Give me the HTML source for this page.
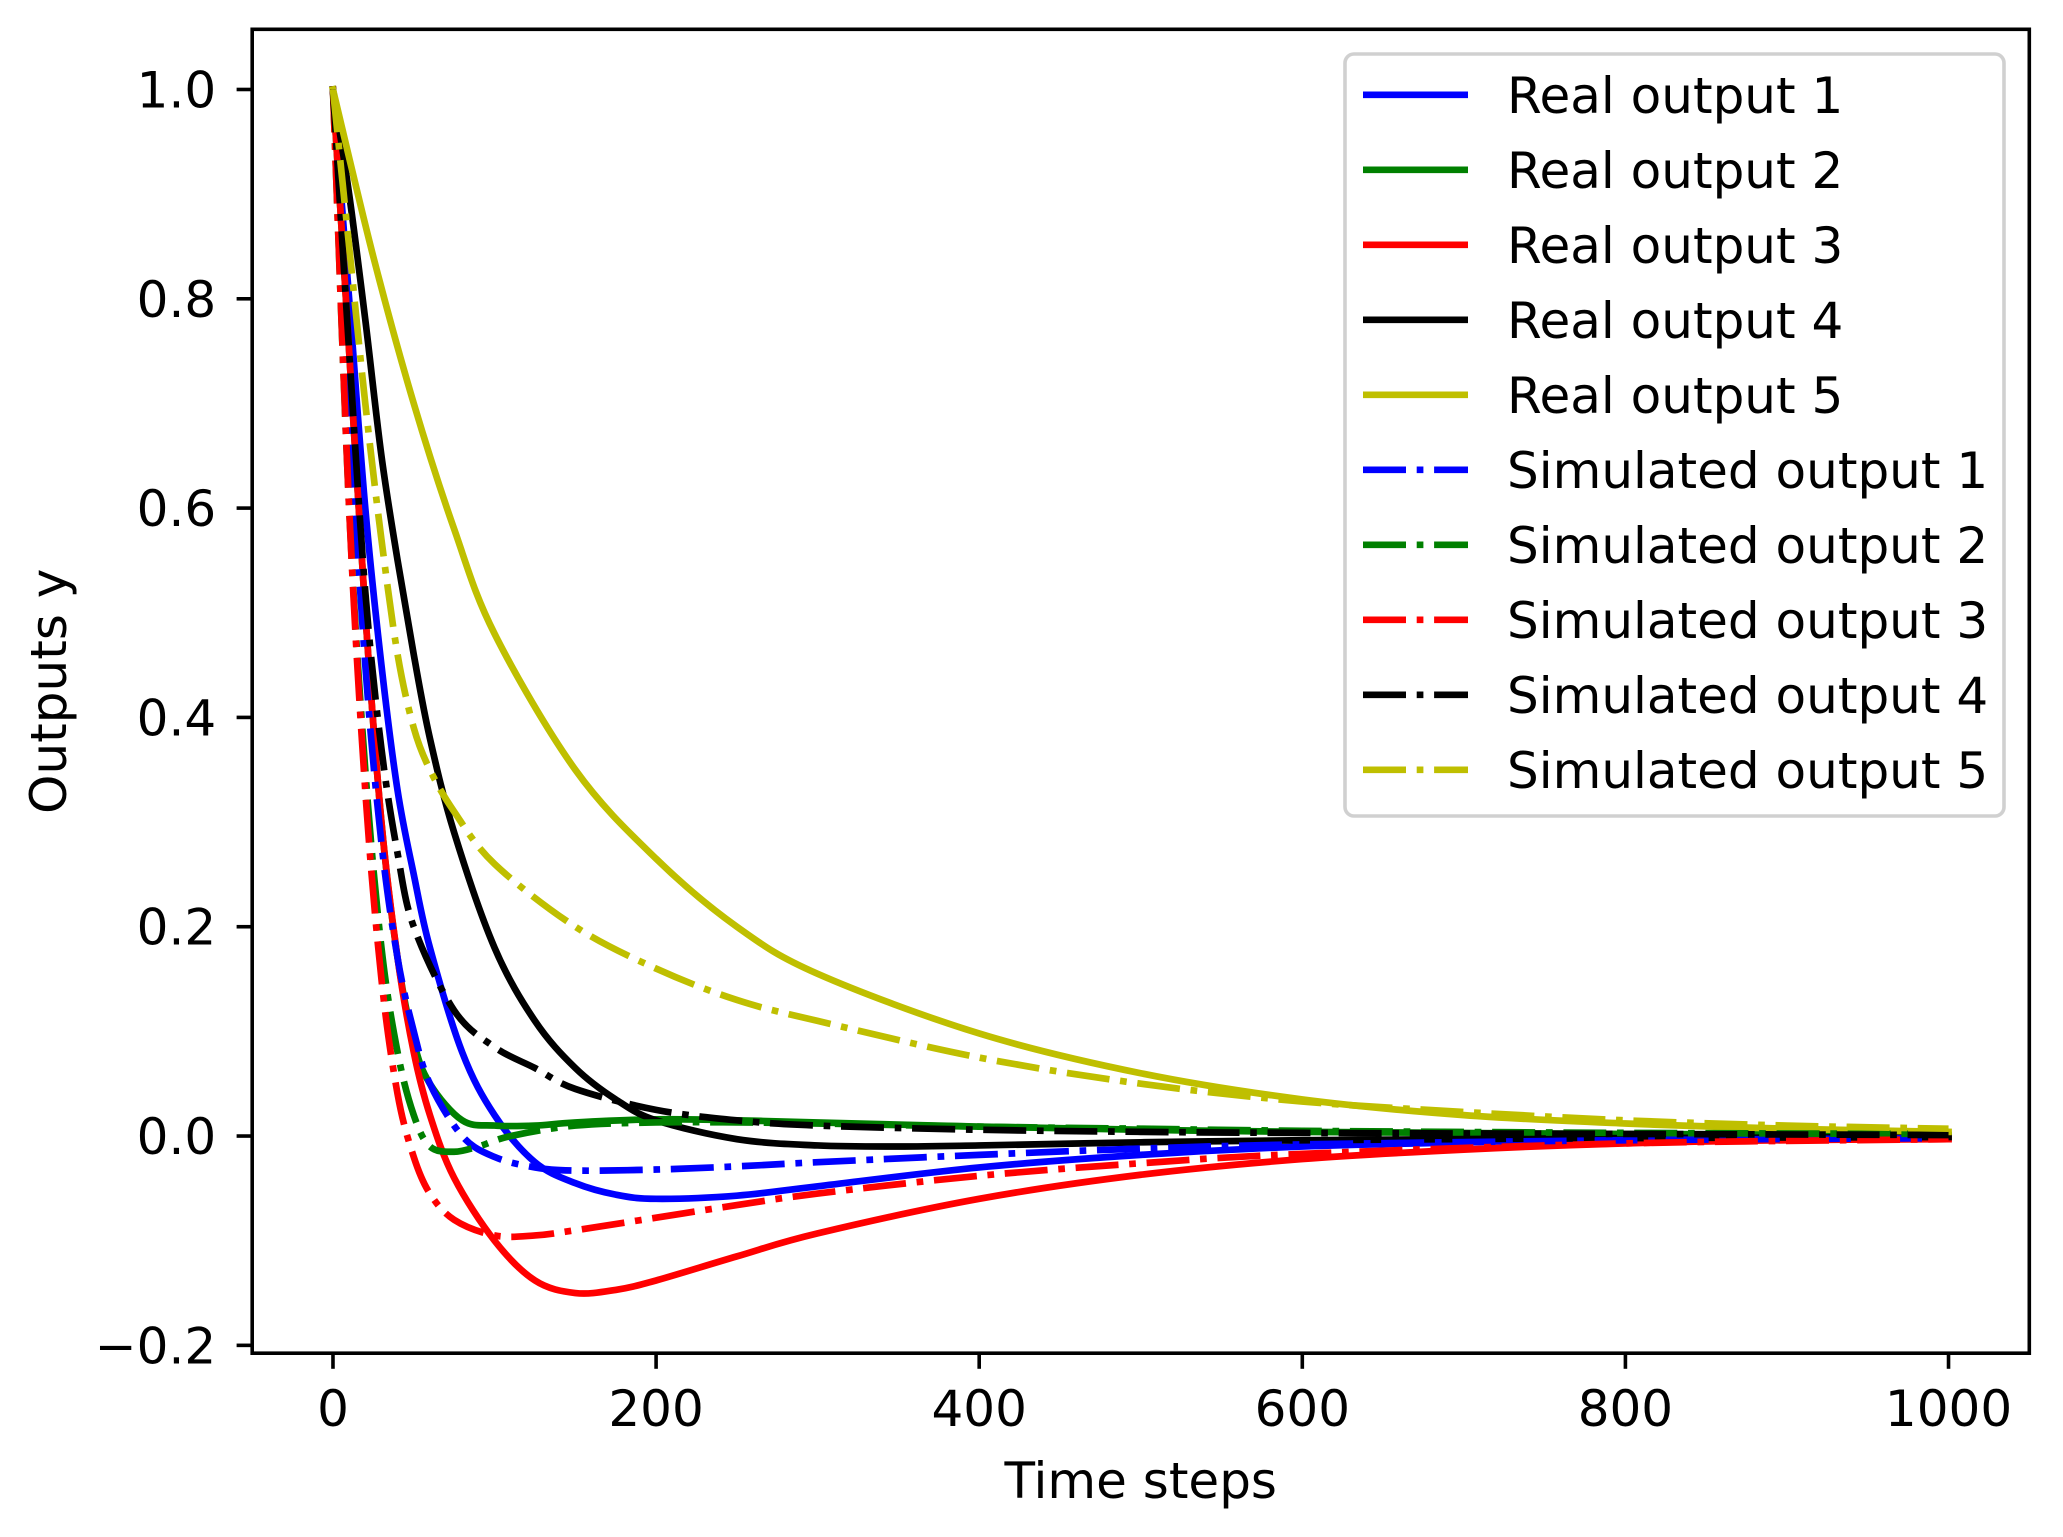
<!DOCTYPE html>
<html><head><meta charset="utf-8"><style>
html,body{margin:0;padding:0;background:#fff}
svg text{font-family:"DejaVu Sans","Liberation Sans",sans-serif;fill:#000}
</style></head><body>
<svg id="chart" width="2063" height="1532" viewBox="0 0 2063 1532" xmlns="http://www.w3.org/2000/svg">
<rect width="2063" height="1532" fill="#fff"/>
<g id="plot"></g>
<g id="axes"></g>
<g id="legend"></g>
</svg>
<script>
const xTicks=[0,200,400,600,800,1000];
const yTicks=[-0.2,0.0,0.2,0.4,0.6,0.8,1.0];
const yTickLabels=["\u22120.2","0.0","0.2","0.4","0.6","0.8","1.0"];
const seriesNames=["Real output 1","Real output 2","Real output 3","Real output 4","Real output 5","Simulated output 1","Simulated output 2","Simulated output 3","Simulated output 4","Simulated output 5"];
const seriesColors=["#0000ff","#008000","#ff0000","#000000","#bfbf00","#0000ff","#008000","#ff0000","#000000","#bfbf00"];
const seriesDashed=[false,false,false,false,false,true,true,true,true,true];
const real1X=[0,10,20,30,40,50,60,80,100,125,150,175,200,250,300,400,500,600,700,800,1000];
const real1Y=[1,0.8,0.6,0.45,0.33,0.25,0.18,0.08,0.02,-0.025,-0.045,-0.056,-0.06,-0.057,-0.048,-0.03,-0.018,-0.01,-0.006,-0.003,-0.001];
const real2X=[0,10,20,30,40,50,60,80,100,125,150,200,250,300,400,500,600,800,1000];
const real2Y=[1,0.75,0.5,0.3,0.17,0.09,0.05,0.015,0.01,0.01,0.013,0.016,0.015,0.013,0.009,0.006,0.004,0.002,0.001];
const real3X=[0,10,20,30,40,50,60,75,100,125,150,175,200,250,300,400,500,600,700,800,900,1000];
const real3Y=[1,0.75,0.5,0.3,0.17,0.08,0.02,-0.04,-0.1,-0.138,-0.15,-0.147,-0.138,-0.115,-0.093,-0.06,-0.037,-0.022,-0.013,-0.007,-0.004,-0.003];
const real4X=[0,10,20,30,40,50,60,75,100,125,150,175,200,250,300,350,400,500,600,800,1000];
const real4Y=[1,0.9,0.78,0.65,0.55,0.46,0.38,0.29,0.18,0.11,0.065,0.035,0.015,-0.003,-0.009,-0.01,-0.009,-0.006,-0.004,-0.002,-0.001];
const real5X=[0,25,50,75,100,150,200,250,300,400,500,600,700,800,900,1000];
const real5Y=[1,0.84,0.7,0.58,0.48,0.35,0.265,0.2,0.155,0.098,0.06,0.035,0.02,0.012,0.007,0.004];
const sim1X=[0,10,20,30,40,50,60,80,100,125,150,200,250,300,400,500,600,800,1000];
const sim1Y=[1,0.7,0.45,0.28,0.17,0.1,0.05,0.0,-0.02,-0.03,-0.033,-0.032,-0.029,-0.025,-0.018,-0.012,-0.008,-0.004,-0.002];
const sim2X=[0,10,20,30,40,50,60,75,90,110,150,200,250,300,400,500,600,800,1000];
const sim2Y=[1,0.6,0.35,0.18,0.08,0.02,-0.01,-0.015,-0.01,0.0,0.01,0.013,0.013,0.012,0.009,0.007,0.005,0.003,0.002];
const sim3X=[0,10,20,30,40,50,60,75,100,125,150,200,250,300,400,500,600,800,1000];
const sim3Y=[1,0.6,0.33,0.15,0.04,-0.02,-0.055,-0.08,-0.095,-0.095,-0.09,-0.078,-0.066,-0.055,-0.038,-0.026,-0.017,-0.007,-0.003];
const sim4X=[0,10,20,30,40,50,75,100,125,150,200,250,300,400,500,600,800,1000];
const sim4Y=[1,0.75,0.52,0.37,0.27,0.2,0.12,0.085,0.065,0.045,0.025,0.015,0.01,0.006,0.004,0.003,0.002,0.001];
const sim5X=[0,10,20,30,40,50,60,75,100,150,200,250,300,400,500,600,700,800,900,1000];
const sim5Y=[1,0.85,0.7,0.57,0.46,0.39,0.35,0.31,0.26,0.2,0.16,0.13,0.11,0.075,0.05,0.033,0.023,0.015,0.01,0.007];
const allX=[real1X,real2X,real3X,real4X,real5X,sim1X,sim2X,sim3X,sim4X,sim5X];
const allY=[real1Y,real2Y,real3Y,real4Y,real5Y,sim1Y,sim2Y,sim3Y,sim4Y,sim5Y];

const NS="http://www.w3.org/2000/svg";
const L=252.2,R=2029.3,T=29.3,B=1353.2;
const xMin=-50,xMax=1050,yMin=-0.2075,yMax=1.0575;
const sx=v=>L+(v-xMin)/(xMax-xMin)*(R-L);
const sy=v=>B-(v-yMin)/(yMax-yMin)*(B-T);
function mk(tag,attrs,parent){const e=document.createElementNS(NS,tag);for(const k in attrs)e.setAttribute(k,attrs[k]);parent.appendChild(e);return e;}
const plot=document.getElementById('plot'),axes=document.getElementById('axes'),leg=document.getElementById('legend');
function pathFor(xs,ys){
  const p=xs.map((x,i)=>[sx(x),sy(ys[i])]);
  let d=`M${p[0][0]},${p[0][1]}`;
  for(let i=0;i<p.length-1;i++){
    const p0=p[Math.max(0,i-1)],p1=p[i],p2=p[i+1],p3=p[Math.min(p.length-1,i+2)];
    const c1=[p1[0]+(p2[0]-p0[0])/6,p1[1]+(p2[1]-p0[1])/6];
    const c2=[p2[0]-(p3[0]-p1[0])/6,p2[1]-(p3[1]-p1[1])/6];
    d+=` C${c1[0]},${c1[1]} ${c2[0]},${c2[1]} ${p2[0]},${p2[1]}`;
  }
  return d;
}
const dash="43,10.7,6.7,10.7";
allX.forEach((xs,i)=>{
  const e=mk('path',{d:pathFor(xs,allY[i]),fill:'none',stroke:seriesColors[i],'stroke-width':6.7,'stroke-linejoin':'round','stroke-linecap':seriesDashed[i]?'butt':'square'},plot);
  if(seriesDashed[i])e.setAttribute('stroke-dasharray',dash);
  
  
});
const frame=mk('rect',{x:L,y:T,width:R-L,height:B-T,fill:'none',stroke:'#000','stroke-width':3.6},axes);


xTicks.forEach(v=>{
  const x=sx(v);
  const t=mk('line',{x1:x,x2:x,y1:B,y2:B+15.6,stroke:'#000','stroke-width':3.6},axes);
  
  
  const tx=mk('text',{x:x,y:B+73,'font-size':50,'text-anchor':'middle'},axes);
  tx.textContent=String(v);
  
  
});
yTicks.forEach((v,i)=>{
  const y=sy(v);
  const t=mk('line',{x1:L-15.6,x2:L,y1:y,y2:y,stroke:'#000','stroke-width':3.6},axes);
  
  
  const tx=mk('text',{x:L-36,y:y+18,'font-size':50,'text-anchor':'end'},axes);
  tx.textContent=yTickLabels[i];
  
  
});
const xl=mk('text',{x:(L+R)/2,y:1498,'font-size':50,'text-anchor':'middle'},axes);
xl.textContent='Time steps';


const yl=mk('text',{x:0,y:0,'font-size':50,'text-anchor':'middle',transform:`translate(66,${(T+B)/2}) rotate(-90)`},axes);
yl.textContent='Outputs y';


const box=mk('rect',{x:1345,y:54,width:659,height:762,rx:9,fill:'#fff','fill-opacity':0.8,stroke:'#d0d0d0','stroke-width':3.6},leg);


seriesNames.forEach((n,i)=>{
  const y=94.8+i*75;
  const g=mk('g',{},leg);
  
  
  const ln=mk('line',{x1:1363,x2:1468,y1:y,y2:y,stroke:seriesColors[i],'stroke-width':6.7},g);
  if(seriesDashed[i])ln.setAttribute('stroke-dasharray',dash);
  const tx=mk('text',{x:1507,y:y+18,'font-size':50},g);
  tx.textContent=n;
});
</script>
</body></html>
